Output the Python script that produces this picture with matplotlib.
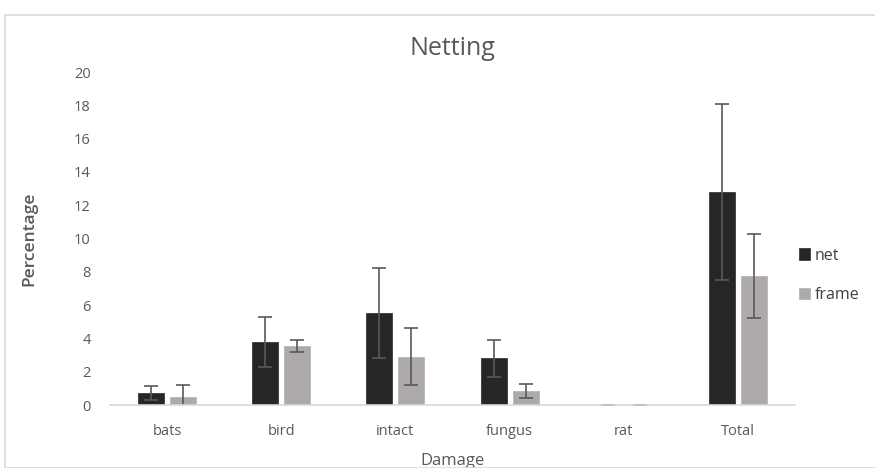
import matplotlib.pyplot as plt
from matplotlib.patches import Rectangle
import numpy as np

plt.rcParams['font.family'] = ['Open Sans', 'DejaVu Sans']

categories = ['bats', 'bird', 'intact', 'fungus', 'rat', 'Total']
net = [0.72, 3.8, 5.5, 2.8, 0.0, 12.8]
net_err = [0.42, 1.5, 2.7, 1.1, 0.0, 5.3]
frame = [0.5, 3.55, 2.9, 0.85, 0.0, 7.75]
frame_err = [0.7, 0.35, 1.7, 0.4, 0.0, 2.5]

fig = plt.figure(figsize=(8.75, 4.68), dpi=100)
ax = fig.add_axes([0.1257, 0.1346, 0.7829, 0.7115])

# chart border like the office chart frame
fig.patches.append(Rectangle((5 / 875, 0), 1.0, 1 - 15 / 468, transform=fig.transFigure,
                             fill=False, edgecolor='#d9d9d9', linewidth=1.2))

x = np.arange(len(categories))
w = 0.227
off = 0.14
err_kw = dict(ecolor='#595959', elinewidth=1.2, capsize=5, capthick=1.2)
ax.bar(x - off, net, w, yerr=net_err, color='#262626', edgecolor='#3a3a3a',
       linewidth=0.6, error_kw=err_kw, label='net')
ax.bar(x + off, frame, w, yerr=frame_err, color='#aeaaaa', edgecolor='#b8b5b5',
       linewidth=0.6, error_kw=err_kw, label='frame')

ax.set_xlim(-0.5, len(categories) - 0.5)
ax.set_ylim(0, 20)
ax.set_yticks(range(0, 21, 2))
ax.set_xticks(x)
ax.set_xticklabels(categories)
ax.tick_params(axis='both', length=0, labelsize=10.5, labelcolor='#595959')
ax.tick_params(axis='x', pad=14)
ax.tick_params(axis='y', pad=14)
for s in ['top', 'right', 'left']:
    ax.spines[s].set_visible(False)
ax.spines['bottom'].set_color('#d9d9d9')
ax.spines['bottom'].set_linewidth(1.2)

ax.set_title('Netting', fontsize=18, color='#595959', pad=12)
ax.set_ylabel('Percentage', fontsize=12.5, color='#595959', fontweight='semibold',
              labelpad=26)
ax.set_xlabel('Damage', fontsize=12, color='#595959', labelpad=10)

leg = ax.legend(loc='center left', bbox_to_anchor=(0.985, 0.39), frameon=False,
                fontsize=11.5, handlelength=0.7, handleheight=0.7, handletextpad=0.3,
                labelspacing=1.45, labelcolor='#404040')

fig.savefig('out.png', dpi=100)
